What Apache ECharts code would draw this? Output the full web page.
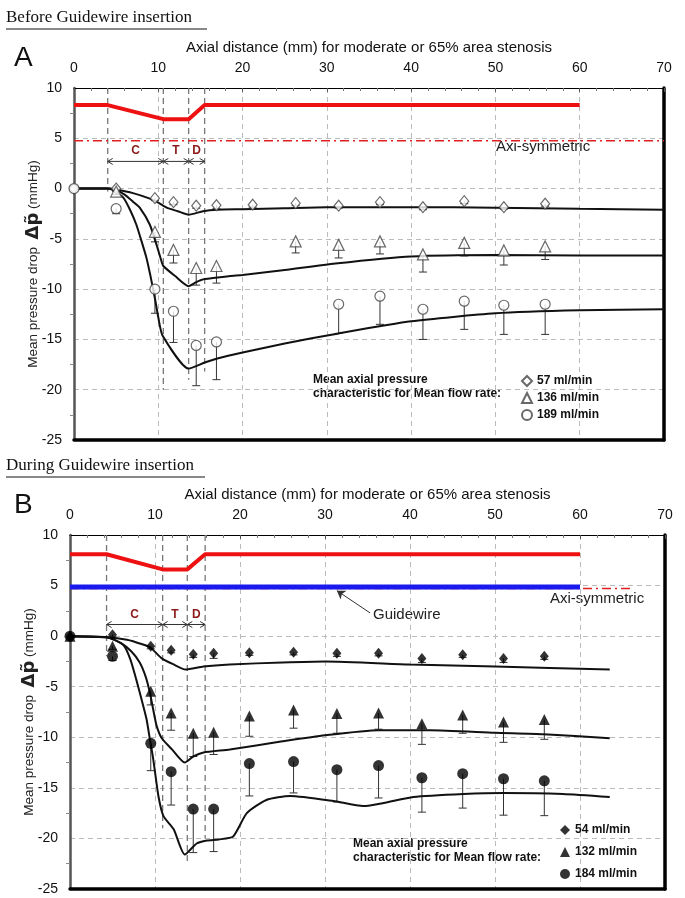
<!DOCTYPE html>
<html>
<head>
<meta charset="utf-8">
<script src="https://cdn.jsdelivr.net/npm/echarts@6/dist/echarts.min.js"></script>
<style>
html, body { margin: 0; padding: 0; background: #fff; }
#main { width: 685px; height: 898px; }
</style>
</head>
<body>
<div id="main"></div>
<script>
var xMeasA = [0, 5, 9.6, 11.8, 14.5, 16.9, 21.2, 26.3, 31.4, 36.3, 41.4, 46.3, 51, 55.9];
var dropA57 = [0, 0, -0.95, -1.35, -1.7, -1.65, -1.6, -1.45, -1.7, -1.35, -1.85, -1.25, -1.85, -1.5];
var lowA57 = [0, -0.3, -1.2, -1.6, -1.95, -2.0, -1.85, -1.7, -1.95, -1.6, -2.1, -1.5, -2.05, -1.75];

var xTriA = [5, 9.6, 11.8, 14.5, 16.9, 26.3, 31.4, 36.3, 41.4, 46.3, 51, 55.9];
var dropA136 = [-0.3, -4.3, -6.1, -7.9, -7.7, -5.25, -5.6, -5.25, -6.55, -5.4, -6.15, -5.75];
var lowA136 = [-0.6, -5.3, -7.4, -9.6, -9.4, -6.4, -6.9, -6.5, -8.3, -6.7, -7.6, -7.05];

var xCircA = [0, 5, 9.6, 11.8, 14.5, 16.9, 31.4, 36.3, 41.4, 46.3, 51, 55.9];
var dropA189 = [0, -2.0, -10.0, -12.2, -15.6, -15.25, -11.5, -10.7, -12.0, -11.2, -11.6, -11.5];
var lowA189 = [0, -2.5, -12.4, -15.3, -19.6, -19.0, -14.4, -13.5, -15.0, -14.0, -14.5, -14.5];

var xMeasB = [0, 5, 9.5, 11.9, 14.5, 16.9, 21.1, 26.3, 31.4, 36.3, 41.4, 46.2, 51, 55.8];
var dropB54 = [0, 0.15, -1.0, -1.4, -1.8, -1.7, -1.65, -1.6, -1.7, -1.7, -2.2, -1.85, -2.2, -2.0];
var lowB54 = [0, -0.1, -1.25, -1.65, -2.1, -2.2, -1.9, -1.85, -2.0, -1.95, -2.6, -2.1, -2.6, -2.3];
var dropB132 = [0, -1.0, -5.45, -7.6, -9.6, -9.5, -7.9, -7.3, -7.65, -7.6, -8.65, -7.8, -8.5, -8.25];
var lowB132 = [0, -1.3, -6.8, -9.3, -11.9, -11.7, -9.9, -9.1, -9.6, -9.2, -10.7, -9.6, -10.5, -10.2];
var dropB184 = [0, -2.0, -10.6, -13.4, -17.1, -17.1, -12.6, -12.4, -13.2, -12.8, -14.0, -13.6, -14.1, -14.3];
var lowB184 = [0, -2.4, -13.3, -16.7, -21.4, -21.3, -15.8, -15.5, -16.4, -16.0, -17.4, -17.0, -17.7, -17.75];

// computed pressure curves [mm, mmHg]
var curveA57 = [[0,0],[4,0],[5,-0.1],[7,-0.45],[9,-1.0],[10,-1.4],[11,-1.9],[12.3,-2.25],[13.6,-2.6],[15.3,-2.25],[17,-2.1],[20,-2.05],[25,-1.95],[30,-1.85],[40,-1.85],[50,-1.9],[60,-2.0],[70,-2.1]];
var curveA136 = [[0,0],[4,0],[5,-0.15],[6,-0.6],[7,-1.3],[7.8,-1.9],[9,-3.6],[9.8,-5.6],[10.3,-7.0],[10.6,-7.7],[12,-8.7],[13.6,-9.7],[14.5,-9.3],[15.5,-9.0],[18.5,-8.7],[20,-8.6],[25,-8.1],[31,-7.45],[40,-6.75],[50,-6.6],[60,-6.65],[70,-6.65]];
var curveA189 = [[0,0],[4,0],[4.5,-0.1],[5.85,-0.9],[6.7,-2.2],[7.4,-3.6],[8,-5.2],[8.6,-6.9],[9.1,-8.8],[9.6,-10.9],[10.0,-12.8],[10.5,-14.6],[13.6,-17.9],[15.5,-17.3],[17,-16.9],[20,-16.3],[25,-15.4],[31.4,-14.4],[40,-13.2],[50,-12.4],[60,-12.1],[70,-12.0]];

var curveB54 = [[0,0],[4.3,-0.1],[6.7,-0.35],[8.5,-0.8],[9.5,-1.15],[10.8,-2.2],[12.2,-2.8],[13.6,-3.3],[15.7,-3.0],[18.8,-2.8],[25,-2.6],[30,-2.5],[40,-2.8],[50,-3.0],[63.5,-3.3]];
var curveB132 = [[0,0],[4.3,-0.1],[6,-0.7],[7.2,-1.5],[8.2,-2.6],[8.9,-4.0],[9.4,-5.6],[9.8,-7.3],[10.2,-8.9],[10.8,-10.1],[12,-11.2],[13.5,-12.5],[14.5,-11.9],[15.7,-11.5],[18.8,-11.2],[25,-10.4],[30,-9.8],[36.3,-9.3],[42.4,-9.3],[50,-9.55],[55.7,-9.7],[63.5,-10.1]];
var curveB184 = [[0,0],[4.3,-0.1],[5.3,-0.4],[6.3,-0.9],[7.1,-2.3],[7.8,-4.3],[8.4,-6.2],[9.0,-8.2],[9.4,-10.2],[9.8,-12.2],[10.4,-15.8],[11.0,-17.8],[12.2,-19.1],[13.5,-21.6],[14.9,-20.5],[16.1,-20.2],[17.5,-20.1],[19.2,-19.8],[20.8,-17.5],[23.1,-16.2],[25.9,-15.8],[31,-16.3],[34.5,-16.8],[36.9,-16.5],[40.4,-15.9],[46.3,-15.6],[51,-15.5],[58,-15.6],[63.5,-15.9]];

// stenosis profile (red) and reference lines
var profXA = [0, 4, 10.6, 13.6, 15.5, 60];
var profYA = [8.3, 8.3, 6.9, 6.9, 8.3, 8.3];
var profXB = [0, 4.3, 10.9, 13.8, 15.9, 60];
var profYB = [8.1, 8.1, 6.6, 6.6, 8.1, 8.1];
var axiA = [[0, 4.75], [70, 4.75]];
var axiB = [[0, 4.7], [66, 4.7]];
var wireB = [[0, 4.85], [60, 4.85]];

// region boundaries (C, T, D) and where the dashed lines stop
var edgesA = [4, 10.6, 13.6, 15.5];
var edgeEndA = [-0.3, -20, -19, -18.2];
var edgesB = [4.3, 10.9, 13.8, 15.9];
var edgeEndB = [-2, -19, -22.3, -20];
var zoneNames = ['C', 'T', 'D'];

var FONT = "'Liberation Sans', Arial, sans-serif";

var myChart = echarts.init(document.getElementById('main'));

function xAxes(gi) {
    return [{
        gridIndex: gi, type: 'value', position: 'top', min: 0, max: 70, interval: 10,
        name: 'Axial distance (mm) for moderate or 65% area stenosis',
        nameLocation: 'middle', nameGap: 33,
        nameTextStyle: { fontSize: 15, color: '#111', fontFamily: FONT },
        axisLine: { onZero: false, lineStyle: { color: '#000', width: 1 } },
        axisTick: { inside: true, length: 4, lineStyle: { color: '#555' } },
        minorTick: { show: true, splitNumber: 5, length: 3, lineStyle: { color: '#777' } },
        axisLabel: { fontSize: 14, color: '#111', margin: 13, fontFamily: FONT },
        splitLine: { show: true, lineStyle: { type: [5, 4], color: '#bbb' } }
    }, {
        gridIndex: gi, type: 'value', position: 'bottom', min: 0, max: 70, interval: 10,
        axisLine: { onZero: false, lineStyle: { color: '#000', width: 3.5 } },
        axisTick: { show: false }, axisLabel: { show: false }, splitLine: { show: false }
    }];
}

function yAxes(gi) {
    return [{
        gridIndex: gi, type: 'value', position: 'left', min: -25, max: 10, interval: 5,
        name: 'Mean pressure drop  {d|\u0394p\u0303} (mmHg)',
        nameLocation: 'middle', nameGap: 32, nameMoveOverlap: false,
        nameTextStyle: {
            fontSize: 13.5, color: '#222', fontFamily: FONT,
            rich: { d: { fontSize: 18, fontWeight: 'bold', color: '#222', fontFamily: 'DejaVu Sans' } }
        },
        axisLine: { show: true, onZero: false, lineStyle: { color: '#555', width: 2.5 } },
        axisTick: { show: false },
        minorTick: { show: true, splitNumber: 2, length: 4, lineStyle: { color: '#888' } },
        axisLabel: { fontSize: 14, color: '#111', margin: 12, fontFamily: FONT },
        splitLine: { show: true, lineStyle: { type: [5, 4], color: '#bbb' } }
    }, {
        gridIndex: gi, type: 'value', position: 'right', min: -25, max: 10, interval: 5,
        axisLine: { show: true, onZero: false, lineStyle: { color: '#000', width: 3.5 } },
        axisTick: { show: false }, axisLabel: { show: false }, splitLine: { show: false }
    }];
}

function pairs(xs, ys) {
    return xs.map(function (x, i) { return [x, ys[i]]; });
}

function lineSeries(gi, data, color, width, type, z) {
    return {
        type: 'line', xAxisIndex: 2 * gi, yAxisIndex: 2 * gi, data: data,
        symbol: 'none', silent: true, z: z || 2,
        lineStyle: { color: color, width: width, type: type || 'solid' }
    };
}

function curve(gi, data) {
    var s = lineSeries(gi, data, '#111', 2, 'solid', 5);
    s.smooth = 0.2;
    return s;
}

function markers(gi, name, xs, ys, symbol, size, filled) {
    return {
        type: 'scatter', name: name, xAxisIndex: 2 * gi, yAxisIndex: 2 * gi,
        data: pairs(xs, ys), symbol: symbol, symbolSize: size, z: 6, silent: true,
        itemStyle: filled ? { color: '#000' } : { color: '#fff', borderColor: '#444', borderWidth: 1.2 }
    };
}

function errorBars(gi, xs, ys, lows) {
    return {
        type: 'custom', xAxisIndex: 2 * gi, yAxisIndex: 2 * gi, silent: true, z: 4,
        encode: { x: 0, y: [1, 2] },
        data: xs.map(function (x, i) { return [x, ys[i], lows[i]]; }),
        renderItem: function (params, api) {
            var top = api.coord([api.value(0), api.value(1)]);
            var bot = api.coord([api.value(0), api.value(2)]);
            if (bot[1] - top[1] < 2) return null;
            return {
                type: 'group', children: [
                    { type: 'line', shape: { x1: top[0], y1: top[1], x2: bot[0], y2: bot[1] }, style: { stroke: '#333', lineWidth: 1 } },
                    { type: 'line', shape: { x1: bot[0] - 4, y1: bot[1], x2: bot[0] + 4, y2: bot[1] }, style: { stroke: '#333', lineWidth: 1 } }
                ]
            };
        }
    };
}

function edgeLines(gi, xs, ends) {
    return {
        type: 'custom', xAxisIndex: 2 * gi, yAxisIndex: 2 * gi, silent: true, z: 1,
        data: xs.map(function (x, i) { return [x, ends[i]]; }),
        renderItem: function (params, api) {
            var a = api.coord([api.value(0), 10]);
            var b = api.coord([api.value(0), api.value(1)]);
            return { type: 'line', shape: { x1: a[0], y1: a[1], x2: b[0], y2: b[1] },
                style: { stroke: '#777', lineWidth: 1.3, lineDash: [6, 4] } };
        }
    };
}

function zoneArrows(gi, xs, yArrow, yText) {
    var data = [];
    for (var i = 0; i < xs.length - 1; i++) data.push([xs[i], xs[i + 1], yArrow, yText]);
    return {
        type: 'custom', xAxisIndex: 2 * gi, yAxisIndex: 2 * gi, silent: true, z: 3,
        encode: { x: [0, 1], y: [2, 3] },
        data: data,
        renderItem: function (params, api) {
            var a = api.coord([api.value(0), api.value(2)]);
            var b = api.coord([api.value(1), api.value(2)]);
            var t = api.coord([(api.value(0) + api.value(1)) / 2, api.value(3)]);
            var st = { stroke: '#333', lineWidth: 1, fill: 'none' };
            return {
                type: 'group', children: [
                    { type: 'line', shape: { x1: a[0], y1: a[1], x2: b[0], y2: b[1] }, style: st },
                    { type: 'polyline', shape: { points: [[a[0] + 5, a[1] - 3], [a[0], a[1]], [a[0] + 5, a[1] + 3]] }, style: st },
                    { type: 'polyline', shape: { points: [[b[0] - 5, b[1] - 3], [b[0], b[1]], [b[0] - 5, b[1] + 3]] }, style: st },
                    { type: 'text', style: { x: t[0], y: t[1], text: zoneNames[params.dataIndex], fill: '#8b1a1a',
                        font: 'bold 12px ' + FONT, align: 'center', verticalAlign: 'middle' } }
                ]
            };
        }
    };
}

var wire = lineSeries(1, wireB, '#1a1aee', 5, 'solid', 3);
wire.markLine = {
    silent: true, symbol: ['arrow', 'none'], symbolSize: 8,
    label: { show: false },
    lineStyle: { color: '#333', width: 1, type: 'solid' },
    data: [[{ coord: [31.4, 4.5] }, { coord: [35.3, 2.3] }]]
};

var legendText = { fontSize: 12, fontWeight: 'bold', color: '#111', fontFamily: FONT };

option = {
    animation: false,
    backgroundColor: '#fff',
    grid: [
        { left: 74, top: 88, width: 590, height: 352, containLabel: false, outerBoundsMode: 'none' },
        { left: 70, top: 535, width: 595, height: 354, containLabel: false, outerBoundsMode: 'none' }
    ],
    xAxis: xAxes(0).concat(xAxes(1)),
    yAxis: yAxes(0).concat(yAxes(1)),
    legend: [{
        data: ['57 ml/min', '136 ml/min', '189 ml/min'],
        orient: 'vertical', left: 516, top: 370, itemWidth: 10, itemHeight: 10, itemGap: 5,
        selectedMode: false, textStyle: legendText
    }, {
        data: ['54 ml/min', '132 ml/min', '184 ml/min'],
        orient: 'vertical', left: 555, top: 819, itemWidth: 10, itemHeight: 10, itemGap: 10,
        selectedMode: false, textStyle: legendText
    }],
    graphic: [
        { type: 'text', left: 6, top: 9, style: { text: 'Before Guidewire insertion', font: '17px "Liberation Serif", serif', fill: '#111' } },
        { type: 'line', shape: { x1: 6, y1: 29, x2: 207, y2: 29 }, style: { stroke: '#111', lineWidth: 1 } },
        { type: 'text', left: 6, top: 457, style: { text: 'During Guidewire insertion', font: '17px "Liberation Serif", serif', fill: '#111' } },
        { type: 'line', shape: { x1: 6, y1: 477, x2: 205, y2: 477 }, style: { stroke: '#111', lineWidth: 1 } },
        { type: 'text', left: 14, top: 44, style: { text: 'A', font: '28px ' + FONT, fill: '#111' } },
        { type: 'text', left: 14, top: 491, style: { text: 'B', font: '28px ' + FONT, fill: '#111' } },
        { type: 'text', left: 496, top: 139, style: { text: 'Axi-symmetric', font: '15px ' + FONT, fill: '#222' } },
        { type: 'text', left: 550, top: 591, style: { text: 'Axi-symmetric', font: '15px ' + FONT, fill: '#222' } },
        { type: 'text', left: 373, top: 607, style: { text: 'Guidewire', font: '15px ' + FONT, fill: '#222' } },
        { type: 'text', left: 313, top: 373, style: { text: 'Mean axial pressure\ncharacteristic for Mean flow rate:', font: 'bold 12px ' + FONT, fill: '#111', lineHeight: 14 } },
        { type: 'text', left: 353, top: 837, style: { text: 'Mean axial pressure\ncharacteristic for Mean flow rate:', font: 'bold 12px ' + FONT, fill: '#111', lineHeight: 14 } }
    ],
    series: [
        // panel A
        edgeLines(0, edgesA, edgeEndA),
        zoneArrows(0, edgesA, 2.7, 3.8),
        lineSeries(0, pairs(profXA, profYA), '#ee1111', 4, 'solid', 3),
        lineSeries(0, axiA, '#e02020', 1.5, [9, 4, 2, 4], 3),
        curve(0, curveA57),
        curve(0, curveA136),
        curve(0, curveA189),
        errorBars(0, xMeasA, dropA57, lowA57),
        errorBars(0, xTriA, dropA136, lowA136),
        errorBars(0, xCircA, dropA189, lowA189),
        markers(0, '57 ml/min', xMeasA, dropA57, 'diamond', [9, 11], false),
        markers(0, '136 ml/min', xTriA, dropA136, 'triangle', 11, false),
        markers(0, '189 ml/min', xCircA, dropA189, 'circle', 10, false),
        // panel B
        edgeLines(1, edgesB, edgeEndB),
        zoneArrows(1, edgesB, 1.15, 2.15),
        lineSeries(1, pairs(profXB, profYB), '#ee1111', 4, 'solid', 3),
        lineSeries(1, axiB, '#e02020', 1.5, [9, 4, 2, 4], 2),
        wire,
        curve(1, curveB54),
        curve(1, curveB132),
        curve(1, curveB184),
        errorBars(1, xMeasB, dropB54, lowB54),
        errorBars(1, xMeasB, dropB132, lowB132),
        errorBars(1, xMeasB, dropB184, lowB184),
        markers(1, '54 ml/min', xMeasB, dropB54, 'diamond', [9, 11], true),
        markers(1, '132 ml/min', xMeasB, dropB132, 'triangle', 11, true),
        markers(1, '184 ml/min', xMeasB, dropB184, 'circle', 11, true)
    ]
};

myChart.setOption(option);
</script>
</body>
</html>
